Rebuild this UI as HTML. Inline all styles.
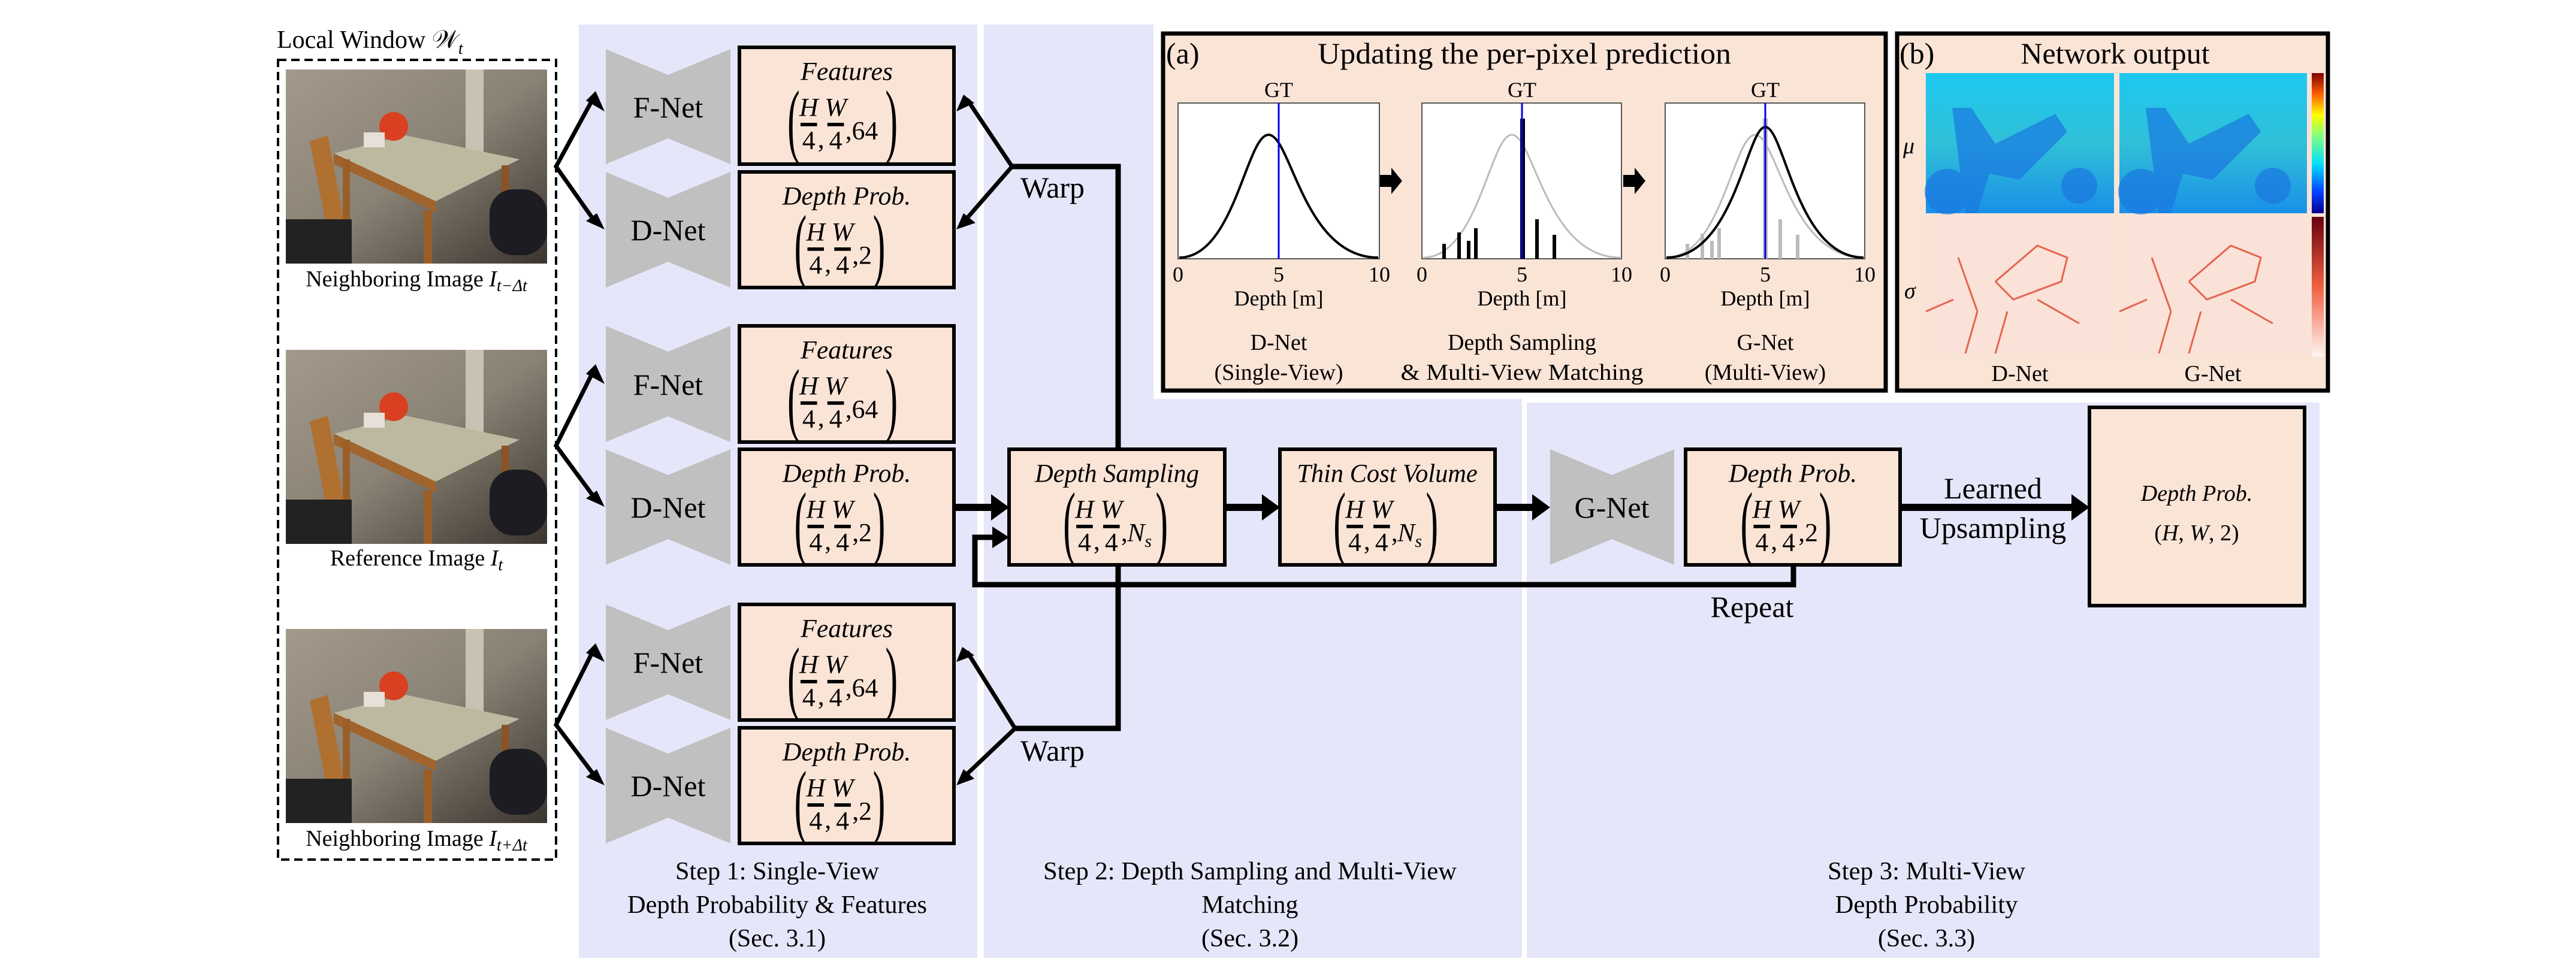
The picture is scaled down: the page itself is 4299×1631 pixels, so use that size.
<!DOCTYPE html>
<html><head><meta charset="utf-8"><style>
html,body{margin:0;padding:0;background:#fff;}
svg{display:block;}
text{font-family:"Liberation Serif",serif;fill:#000;}
.it{font-style:italic;font-size:38px;}
.n{font-size:38px;}
.lab{font-size:50px;}
.par{font-size:120px;}
.sm{font-size:38px;}
.st{font-size:42px;}
.ax{font-size:36px;}
</style></head><body>
<svg width="4299" height="1631" viewBox="0 0 4299 1631" xmlns="http://www.w3.org/2000/svg">
<defs>
<linearGradient id="wall" x1="0" y1="0" x2="1" y2="1"><stop offset="0" stop-color="#a39a8c"/><stop offset="0.5" stop-color="#8a8275"/><stop offset="1" stop-color="#3a342e"/></linearGradient>
<linearGradient id="mu" x1="0" y1="0" x2="0" y2="1"><stop offset="0" stop-color="#1ec8f0"/><stop offset="0.5" stop-color="#30c0d8"/><stop offset="1" stop-color="#1a90e8"/></linearGradient>
<linearGradient id="cb1" x1="0" y1="1" x2="0" y2="0"><stop offset="0" stop-color="#00008f"/><stop offset="0.15" stop-color="#0040ff"/><stop offset="0.35" stop-color="#00e0ff"/><stop offset="0.55" stop-color="#80ff80"/><stop offset="0.7" stop-color="#ffff00"/><stop offset="0.85" stop-color="#ff6000"/><stop offset="1" stop-color="#800000"/></linearGradient>
<linearGradient id="cb2" x1="0" y1="1" x2="0" y2="0"><stop offset="0" stop-color="#fff5f0"/><stop offset="0.5" stop-color="#f06040"/><stop offset="1" stop-color="#67000d"/></linearGradient>
</defs>

<rect x="966" y="41" width="665" height="1558" fill="#e6e6fa"/>
<rect x="1642" y="41" width="898" height="1558" fill="#e6e6fa"/>
<rect x="2548" y="672" width="1323" height="927" fill="#e6e6fa"/>
<rect x="1925" y="41" width="1970" height="625" fill="#fff"/>

<text x="462" y="80" class="st" font-size="42">Local Window 𝒲<tspan font-style="italic" font-size="28" dy="10">t</tspan></text>
<rect x="464" y="100" width="464" height="1335" fill="none" stroke="#000" stroke-width="4" stroke-dasharray="14,8"/>

<g transform="translate(477,116)">
<rect width="436" height="324" fill="url(#wall)"/><rect x="300" y="0" width="30" height="180" fill="#c9c2b2"/>
<polygon points="80,140 200,110 390,150 250,220" fill="#bdb9a0"/><polygon points="80,140 250,220 252,238 80,158" fill="#a0642c"/>
<rect x="95" y="150" width="12" height="150" fill="#9a5e28"/><rect x="230" y="235" width="14" height="89" fill="#9a5e28"/>
<rect x="360" y="160" width="12" height="140" fill="#8a5424"/>
<polygon points="40,120 70,110 110,324 80,324" fill="#b07030"/><rect x="0" y="250" width="110" height="74" fill="#222"/>
<rect x="340" y="200" width="96" height="110" rx="40" fill="#1c1c22"/><circle cx="180" cy="95" r="24" fill="#d84020"/><rect x="130" y="105" width="35" height="25" fill="#e8e0d8"/>
</g>
<text x="695" y="478" class="sm" text-anchor="middle">Neighboring Image <tspan font-style="italic">I</tspan><tspan font-style="italic" font-size="28" dy="8">t−Δt</tspan></text>
<g transform="translate(477,584)">
<rect width="436" height="324" fill="url(#wall)"/><rect x="300" y="0" width="30" height="180" fill="#c9c2b2"/>
<polygon points="80,140 200,110 390,150 250,220" fill="#bdb9a0"/><polygon points="80,140 250,220 252,238 80,158" fill="#a0642c"/>
<rect x="95" y="150" width="12" height="150" fill="#9a5e28"/><rect x="230" y="235" width="14" height="89" fill="#9a5e28"/>
<rect x="360" y="160" width="12" height="140" fill="#8a5424"/>
<polygon points="40,120 70,110 110,324 80,324" fill="#b07030"/><rect x="0" y="250" width="110" height="74" fill="#222"/>
<rect x="340" y="200" width="96" height="110" rx="40" fill="#1c1c22"/><circle cx="180" cy="95" r="24" fill="#d84020"/><rect x="130" y="105" width="35" height="25" fill="#e8e0d8"/>
</g>
<text x="695" y="944" class="sm" text-anchor="middle">Reference Image <tspan font-style="italic">I</tspan><tspan font-style="italic" font-size="28" dy="8">t</tspan></text>
<g transform="translate(477,1050)">
<rect width="436" height="324" fill="url(#wall)"/><rect x="300" y="0" width="30" height="180" fill="#c9c2b2"/>
<polygon points="80,140 200,110 390,150 250,220" fill="#bdb9a0"/><polygon points="80,140 250,220 252,238 80,158" fill="#a0642c"/>
<rect x="95" y="150" width="12" height="150" fill="#9a5e28"/><rect x="230" y="235" width="14" height="89" fill="#9a5e28"/>
<rect x="360" y="160" width="12" height="140" fill="#8a5424"/>
<polygon points="40,120 70,110 110,324 80,324" fill="#b07030"/><rect x="0" y="250" width="110" height="74" fill="#222"/>
<rect x="340" y="200" width="96" height="110" rx="40" fill="#1c1c22"/><circle cx="180" cy="95" r="24" fill="#d84020"/><rect x="130" y="105" width="35" height="25" fill="#e8e0d8"/>
</g>
<text x="695" y="1412" class="sm" text-anchor="middle">Neighboring Image <tspan font-style="italic">I</tspan><tspan font-style="italic" font-size="28" dy="8">t+Δt</tspan></text>

<g fill="#c0c0c0">
<polygon points="1011,82 1115,125 1219,82 1219,274 1115,231 1011,274"/>
<polygon points="1011,287 1115,330 1219,287 1219,480 1115,437 1011,480"/>
<polygon points="1011,544 1115,587 1219,544 1219,738 1115,695 1011,738"/>
<polygon points="1011,750 1115,793 1219,750 1219,943 1115,900 1011,943"/>
<polygon points="1011,1009 1115,1052 1219,1009 1219,1202 1115,1159 1011,1202"/>
<polygon points="1011,1215 1115,1258 1219,1215 1219,1408 1115,1365 1011,1408"/>
<polygon points="2587,750 2690,793 2794,750 2794,943 2690,900 2587,943"/>
</g>
<g text-anchor="middle">
<text x="1115" y="196" class="lab">F-Net</text><text x="1115" y="401" class="lab">D-Net</text>
<text x="1115" y="659" class="lab">F-Net</text><text x="1115" y="864" class="lab">D-Net</text>
<text x="1115" y="1123" class="lab">F-Net</text><text x="1115" y="1329" class="lab">D-Net</text>
<text x="2690" y="864" class="lab">G-Net</text>
</g>

<g fill="#fae4d6" stroke="#000" stroke-width="6">
<rect x="1234" y="79" width="358" height="195"/><rect x="1234" y="287" width="358" height="193"/>
<rect x="1234" y="544" width="358" height="194"/><rect x="1234" y="750" width="358" height="193"/>
<rect x="1234" y="1009" width="358" height="193"/><rect x="1234" y="1215" width="358" height="193"/>
<rect x="1684" y="750" width="360" height="193"/><rect x="2136" y="750" width="359" height="193"/>
<rect x="2813" y="750" width="358" height="193"/><rect x="3487" y="680" width="359" height="331"/>
</g>

<g transform="translate(1413,67) scale(1.15)"><text x="0" y="58" class="it" text-anchor="middle">Features</text><text transform="translate(-86,156) scale(0.45,1)" class="par">(</text><text x="-55" y="110" class="it" text-anchor="middle">H</text><rect x="-67" y="120" width="24" height="5"/><text x="-55" y="158" class="n" text-anchor="middle">4</text><text x="-42" y="156" class="n">,</text><text x="-16" y="110" class="it" text-anchor="middle">W</text><rect x="-28" y="120" width="24" height="5"/><text x="-16" y="158" class="n" text-anchor="middle">4</text><text x="-2" y="144" class="n">,64</text><text transform="translate(56,156) scale(0.45,1)" class="par">)</text></g>
<g transform="translate(1413,532) scale(1.15)"><text x="0" y="58" class="it" text-anchor="middle">Features</text><text transform="translate(-86,156) scale(0.45,1)" class="par">(</text><text x="-55" y="110" class="it" text-anchor="middle">H</text><rect x="-67" y="120" width="24" height="5"/><text x="-55" y="158" class="n" text-anchor="middle">4</text><text x="-42" y="156" class="n">,</text><text x="-16" y="110" class="it" text-anchor="middle">W</text><rect x="-28" y="120" width="24" height="5"/><text x="-16" y="158" class="n" text-anchor="middle">4</text><text x="-2" y="144" class="n">,64</text><text transform="translate(56,156) scale(0.45,1)" class="par">)</text></g>
<g transform="translate(1413,997) scale(1.15)"><text x="0" y="58" class="it" text-anchor="middle">Features</text><text transform="translate(-86,156) scale(0.45,1)" class="par">(</text><text x="-55" y="110" class="it" text-anchor="middle">H</text><rect x="-67" y="120" width="24" height="5"/><text x="-55" y="158" class="n" text-anchor="middle">4</text><text x="-42" y="156" class="n">,</text><text x="-16" y="110" class="it" text-anchor="middle">W</text><rect x="-28" y="120" width="24" height="5"/><text x="-16" y="158" class="n" text-anchor="middle">4</text><text x="-2" y="144" class="n">,64</text><text transform="translate(56,156) scale(0.45,1)" class="par">)</text></g>

<g transform="translate(1413,275) scale(1.15)"><text x="0" y="58" class="it" text-anchor="middle">Depth Prob.</text><text transform="translate(-76,156) scale(0.45,1)" class="par">(</text><text x="-45" y="110" class="it" text-anchor="middle">H</text><rect x="-57" y="120" width="24" height="5"/><text x="-45" y="158" class="n" text-anchor="middle">4</text><text x="-32" y="156" class="n">,</text><text x="-6" y="110" class="it" text-anchor="middle">W</text><rect x="-18" y="120" width="24" height="5"/><text x="-6" y="158" class="n" text-anchor="middle">4</text><text x="8" y="144" class="n">,2</text><text transform="translate(38,156) scale(0.45,1)" class="par">)</text></g>
<g transform="translate(1413,738) scale(1.15)"><text x="0" y="58" class="it" text-anchor="middle">Depth Prob.</text><text transform="translate(-76,156) scale(0.45,1)" class="par">(</text><text x="-45" y="110" class="it" text-anchor="middle">H</text><rect x="-57" y="120" width="24" height="5"/><text x="-45" y="158" class="n" text-anchor="middle">4</text><text x="-32" y="156" class="n">,</text><text x="-6" y="110" class="it" text-anchor="middle">W</text><rect x="-18" y="120" width="24" height="5"/><text x="-6" y="158" class="n" text-anchor="middle">4</text><text x="8" y="144" class="n">,2</text><text transform="translate(38,156) scale(0.45,1)" class="par">)</text></g>
<g transform="translate(1413,1203) scale(1.15)"><text x="0" y="58" class="it" text-anchor="middle">Depth Prob.</text><text transform="translate(-76,156) scale(0.45,1)" class="par">(</text><text x="-45" y="110" class="it" text-anchor="middle">H</text><rect x="-57" y="120" width="24" height="5"/><text x="-45" y="158" class="n" text-anchor="middle">4</text><text x="-32" y="156" class="n">,</text><text x="-6" y="110" class="it" text-anchor="middle">W</text><rect x="-18" y="120" width="24" height="5"/><text x="-6" y="158" class="n" text-anchor="middle">4</text><text x="8" y="144" class="n">,2</text><text transform="translate(38,156) scale(0.45,1)" class="par">)</text></g>
<g transform="translate(2992,738) scale(1.15)"><text x="0" y="58" class="it" text-anchor="middle">Depth Prob.</text><text transform="translate(-76,156) scale(0.45,1)" class="par">(</text><text x="-45" y="110" class="it" text-anchor="middle">H</text><rect x="-57" y="120" width="24" height="5"/><text x="-45" y="158" class="n" text-anchor="middle">4</text><text x="-32" y="156" class="n">,</text><text x="-6" y="110" class="it" text-anchor="middle">W</text><rect x="-18" y="120" width="24" height="5"/><text x="-6" y="158" class="n" text-anchor="middle">4</text><text x="8" y="144" class="n">,2</text><text transform="translate(38,156) scale(0.45,1)" class="par">)</text></g>

<g transform="translate(1864,738) scale(1.15)"><text x="0" y="58" class="it" text-anchor="middle" textLength="238" lengthAdjust="spacingAndGlyphs">Depth Sampling</text><text transform="translate(-78,156) scale(0.45,1)" class="par">(</text><text x="-47" y="110" class="it" text-anchor="middle">H</text><rect x="-59" y="120" width="24" height="5"/><text x="-47" y="158" class="n" text-anchor="middle">4</text><text x="-34" y="156" class="n">,</text><text x="-8" y="110" class="it" text-anchor="middle">W</text><rect x="-20" y="120" width="24" height="5"/><text x="-8" y="158" class="n" text-anchor="middle">4</text><text x="6" y="144" class="n">,</text><text x="15" y="144" class="it">N<tspan font-size="26" dy="8">s</tspan></text><text transform="translate(56,156) scale(0.45,1)" class="par">)</text></g>
<g transform="translate(2315,738) scale(1.15)"><text x="0" y="58" class="it" text-anchor="middle" textLength="262" lengthAdjust="spacingAndGlyphs">Thin Cost Volume</text><text transform="translate(-78,156) scale(0.45,1)" class="par">(</text><text x="-47" y="110" class="it" text-anchor="middle">H</text><rect x="-59" y="120" width="24" height="5"/><text x="-47" y="158" class="n" text-anchor="middle">4</text><text x="-34" y="156" class="n">,</text><text x="-8" y="110" class="it" text-anchor="middle">W</text><rect x="-20" y="120" width="24" height="5"/><text x="-8" y="158" class="n" text-anchor="middle">4</text><text x="6" y="144" class="n">,</text><text x="15" y="144" class="it">N<tspan font-size="26" dy="8">s</tspan></text><text transform="translate(56,156) scale(0.45,1)" class="par">)</text></g>
<text x="3666" y="836" class="it" font-size="46" text-anchor="middle">Depth Prob.</text>
<text x="3666" y="902" class="n" font-size="46" text-anchor="middle">(<tspan font-style="italic">H</tspan>, <tspan font-style="italic">W</tspan>, 2)</text>

<g stroke="#000" fill="none" stroke-width="7">
<polyline points="990,164 928,278 990,366"/>
<polyline points="990,620 928,744 990,828"/>
<polyline points="990,1086 928,1210 990,1292"/>
<polyline points="1614,166 1689,278 1614,364"/>
<polyline points="1689,278 1866,278 1866,750" stroke-width="9"/>
<polyline points="1866,943 1866,1216 1694,1216" stroke-width="9"/>
<polyline points="1614,1088 1694,1216 1614,1292"/>
<line x1="1595" y1="847" x2="1660" y2="847" stroke-width="12"/>
<line x1="2047" y1="847" x2="2112" y2="847" stroke-width="12"/>
<line x1="2498" y1="847" x2="2563" y2="847" stroke-width="12"/>
<line x1="3174" y1="847" x2="3462" y2="847" stroke-width="12"/>
<polyline points="2993,943 2993,976 1627,976 1627,897 1662,897" stroke-width="9"/>
</g>
<g fill="#000">
<polygon points="1009,186 978,168 994,152"/>
<polygon points="1009,383 978,369 996,356"/>
<polygon points="1009,641 978,624 994,608"/>
<polygon points="1009,846 978,832 996,819"/>
<polygon points="1009,1105 978,1090 994,1074"/>
<polygon points="1009,1311 978,1297 996,1284"/>
<polygon points="1596,186 1626,172 1608,158"/>
<polygon points="1596,383 1628,372 1608,356"/>
<polygon points="1596,1105 1626,1094 1606,1080"/>
<polygon points="1596,1311 1626,1300 1608,1284"/>
<polygon points="1684,847 1654,825 1654,869"/>
<polygon points="2136,847 2106,825 2106,869"/>
<polygon points="2587,847 2557,825 2557,869"/>
<polygon points="3487,847 3457,825 3457,869"/>
<polygon points="1684,897 1656,879 1656,915"/>
</g>
<text x="1703" y="330" class="lab">Warp</text>
<text x="1703" y="1270" class="lab">Warp</text>
<text x="2924" y="1030" class="lab" text-anchor="middle">Repeat</text>
<text x="3326" y="832" class="lab" text-anchor="middle">Learned</text>
<text x="3326" y="898" class="lab" text-anchor="middle">Upsampling</text>

<g text-anchor="middle">
<text x="1297" y="1468" class="st" textLength="340" lengthAdjust="spacingAndGlyphs">Step 1: Single-View</text>
<text x="1297" y="1524" class="st" textLength="500" lengthAdjust="spacingAndGlyphs">Depth Probability &amp; Features</text>
<text x="1297" y="1580" class="st">(Sec. 3.1)</text>
<text x="2086" y="1468" class="st" textLength="690" lengthAdjust="spacingAndGlyphs">Step 2: Depth Sampling and Multi-View</text>
<text x="2086" y="1524" class="st">Matching</text>
<text x="2086" y="1580" class="st">(Sec. 3.2)</text>
<text x="3215" y="1468" class="st" textLength="330" lengthAdjust="spacingAndGlyphs">Step 3: Multi-View</text>
<text x="3215" y="1524" class="st" textLength="305" lengthAdjust="spacingAndGlyphs">Depth Probability</text>
<text x="3215" y="1580" class="st">(Sec. 3.3)</text>
</g>

<rect x="1941" y="56" width="1206" height="596" fill="#fae4d6" stroke="#000" stroke-width="7"/>
<text x="1946" y="106" class="lab" font-size="50">(a)</text>
<text x="2544" y="106" class="lab" font-size="50" text-anchor="middle" textLength="690" lengthAdjust="spacingAndGlyphs">Updating the per-pixel prediction</text>
<g stroke="#555" stroke-width="2" fill="#fff">
<rect x="1966" y="172" width="336" height="260"/><rect x="2373" y="172" width="333" height="260"/><rect x="2779" y="172" width="333" height="260"/>
</g>
<g class="ax">
<text x="2134" y="162" fill="#0000ee" text-anchor="middle" class="ax">GT</text><text x="2540" y="162" fill="#0000ee" text-anchor="middle" class="ax">GT</text><text x="2946" y="162" fill="#0000ee" text-anchor="middle" class="ax">GT</text>
<text x="1966" y="470" text-anchor="middle" class="ax">0</text><text x="2134" y="470" text-anchor="middle" class="ax">5</text><text x="2302" y="470" text-anchor="middle" class="ax">10</text>
<text x="2373" y="470" text-anchor="middle" class="ax">0</text><text x="2540" y="470" text-anchor="middle" class="ax">5</text><text x="2706" y="470" text-anchor="middle" class="ax">10</text>
<text x="2779" y="470" text-anchor="middle" class="ax">0</text><text x="2946" y="470" text-anchor="middle" class="ax">5</text><text x="3112" y="470" text-anchor="middle" class="ax">10</text>
<text x="2134" y="510" text-anchor="middle" class="ax">Depth [m]</text><text x="2540" y="510" text-anchor="middle" class="ax">Depth [m]</text><text x="2946" y="510" text-anchor="middle" class="ax">Depth [m]</text>
</g>
<path d="M1968,430 C2060,430 2080,225 2117,225 C2155,225 2175,430 2300,430" stroke="#000" stroke-width="4" fill="none"/>
<path d="M2375,430 C2467,430 2487,225 2523,225 C2560,225 2580,430 2704,430" stroke="#bbb" stroke-width="3" fill="none"/>
<g fill="#000"><rect x="2407" y="407" width="6" height="25"/><rect x="2432" y="388" width="6" height="44"/><rect x="2448" y="402" width="6" height="30"/><rect x="2460" y="381" width="6" height="51"/><rect x="2537" y="198" width="8" height="234"/><rect x="2562" y="366" width="6" height="66"/><rect x="2591" y="392" width="6" height="40"/></g>
<g fill="#bbb"><rect x="2813" y="407" width="6" height="25"/><rect x="2838" y="390" width="6" height="42"/><rect x="2854" y="402" width="6" height="30"/><rect x="2866" y="381" width="6" height="51"/><rect x="2942" y="198" width="8" height="234"/><rect x="2968" y="366" width="6" height="66"/><rect x="2997" y="392" width="6" height="40"/></g>
<path d="M2781,430 C2873,430 2893,225 2929,225 C2966,225 2986,430 3110,430" stroke="#bbb" stroke-width="3" fill="none"/>
<path d="M2781,430 C2895,430 2915,212 2946,212 C2978,212 2998,430 3110,430" stroke="#000" stroke-width="4" fill="none"/>
<g stroke="#0000ee" stroke-width="3"><line x1="2134" y1="172" x2="2134" y2="432"/><line x1="2540" y1="172" x2="2540" y2="432"/><line x1="2946" y1="172" x2="2946" y2="432"/></g>
<polygon points="2303,292 2322,292 2322,280 2340,302 2322,324 2322,312 2303,312" fill="#000"/>
<polygon points="2709,292 2728,292 2728,280 2746,302 2728,324 2728,312 2709,312" fill="#000"/>
<g text-anchor="middle">
<text x="2134" y="584" class="n" font-size="42">D-Net</text><text x="2134" y="634" class="n" font-size="42">(Single-View)</text>
<text x="2540" y="584" class="n" font-size="42">Depth Sampling</text><text x="2540" y="634" class="n" font-size="42" textLength="405" lengthAdjust="spacingAndGlyphs">&amp; Multi-View Matching</text>
<text x="2946" y="584" class="n" font-size="42">G-Net</text><text x="2946" y="634" class="n" font-size="42">(Multi-View)</text>
</g>

<rect x="3166" y="56" width="719" height="596" fill="#fae4d6" stroke="#000" stroke-width="7"/>
<text x="3170" y="106" class="lab" font-size="50">(b)</text>
<text x="3530" y="106" class="lab" font-size="50" text-anchor="middle">Network output</text>
<rect x="3214" y="122" width="314" height="234" fill="url(#mu)"/><rect x="3537" y="122" width="313" height="234" fill="url(#mu)"/>
<g fill="#1a78e0" opacity="0.7">
<polygon points="3258,180 3290,180 3330,240 3430,190 3450,220 3370,300 3320,290 3300,356 3280,356"/>
<circle cx="3250" cy="320" r="38"/><circle cx="3470" cy="310" r="30"/>
<polygon points="3581,180 3613,180 3653,240 3753,190 3773,220 3693,300 3643,290 3623,356 3603,356"/>
<circle cx="3573" cy="320" r="38"/><circle cx="3793" cy="310" r="30"/>
</g>
<rect x="3214" y="362" width="314" height="233" fill="#fbe2d8"/><rect x="3537" y="362" width="313" height="233" fill="#fbe2d8"/>
<g stroke="#e0442a" stroke-width="3" fill="none" opacity="0.8">
<path d="M3268,430 L3300,520 M3330,470 L3400,410 L3450,430 L3440,470 L3360,500 L3330,470 M3300,520 L3280,590 M3350,520 L3330,590 M3400,500 L3470,540 M3214,520 L3260,500"/>
<path d="M3591,430 L3623,520 M3653,470 L3723,410 L3773,430 L3763,470 L3683,500 L3653,470 M3623,520 L3603,590 M3673,520 L3653,590 M3723,500 L3793,540 M3537,520 L3583,500"/>
</g>
<rect x="3858" y="122" width="20" height="234" fill="url(#cb1)"/>
<rect x="3858" y="362" width="20" height="233" fill="url(#cb2)"/>
<text x="3176" y="256" class="it" font-size="44">μ</text>
<text x="3178" y="498" class="it" font-size="44">σ</text>
<text x="3371" y="636" class="n" font-size="42" text-anchor="middle">D-Net</text>
<text x="3693" y="636" class="n" font-size="42" text-anchor="middle">G-Net</text>
</svg>
</body></html>
